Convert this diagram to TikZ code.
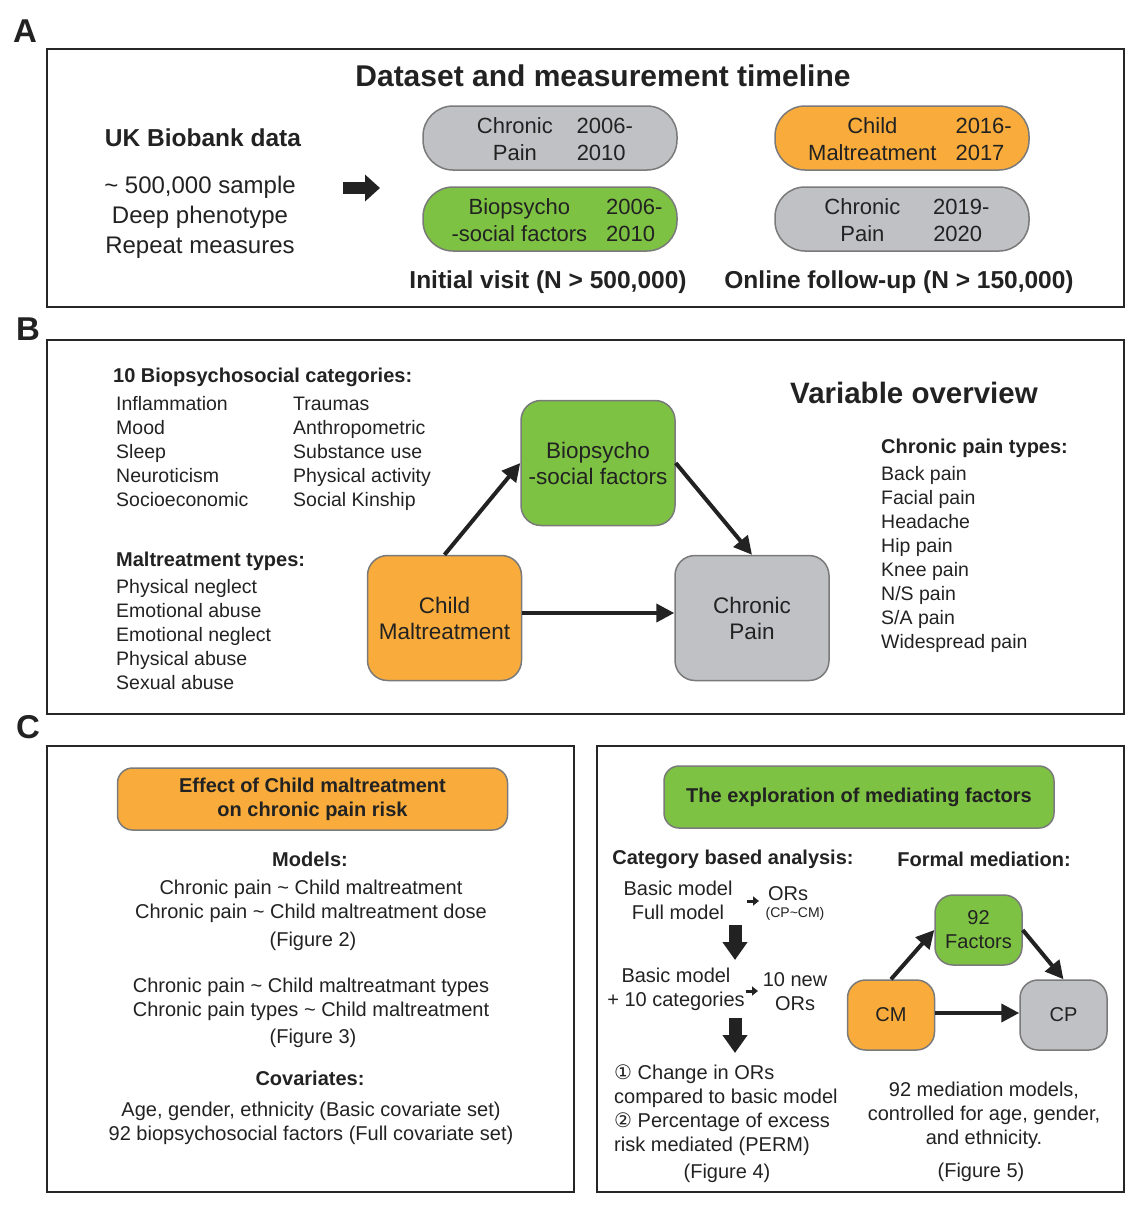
\documentclass[tikz,border=0pt]{standalone}
\usepackage{fontspec}
\setmainfont{Liberation Sans}
\newfontfamily\circfont{DejaVu Sans}
\usetikzlibrary{arrows.meta,positioning}
\definecolor{cmorange}{HTML}{F9AC3B}
\definecolor{bpsgreen}{HTML}{7DC242}
\definecolor{cpgrey}{HTML}{C0C1C4}
\definecolor{boxline}{HTML}{7A7A7A}
\definecolor{ink}{HTML}{222222}

\begin{document}
\begin{tikzpicture}[x=1pt,y=-1pt,every node/.style={text=ink,inner sep=0pt}]
        \tikzset{panel/.style = {draw=black!85,line width=2.2pt}}
        \tikzset{letter/.style = {font=\bfseries\fontsize{33}{36}\selectfont}}
        \tikzset{head/.style = {font=\bfseries\fontsize{30}{34}\selectfont}}
        \tikzset{bold/.style = {font=\bfseries\fontsize{24.5}{30}\selectfont}}
        \tikzset{pill/.style = {draw=boxline,line width=1.5pt,rounded corners=30pt,minimum width=254pt,minimum height=64pt,font=\fontsize{22}{27}\selectfont}}
        \tikzset{vbox/.style = {draw=boxline,line width=1.5pt,rounded corners=20pt,minimum width=154pt,minimum height=125pt,align=center,font=\fontsize{22.5}{26}\selectfont}}
        \tikzset{sbox/.style = {draw=boxline,line width=1.5pt,rounded corners=18pt,minimum width=87pt,minimum height=70pt,align=center,font=\fontsize{20}{24}\selectfont}}
        \tikzset{tbox/.style = {draw=boxline,line width=1.5pt,rounded corners=15pt,minimum width=390pt,minimum height=62pt,align=center,font=\bfseries\fontsize{20}{24}\selectfont}}
        \tikzset{list/.style = {align=left,font=\fontsize{19.5}{24}\selectfont}}
        \tikzset{listhead/.style = {font=\bfseries\fontsize{20}{24}\selectfont}}
        \tikzset{ctext/.style = {align=center,font=\fontsize{20}{24}\selectfont}}
        \tikzset{edge/.style = {line width=4pt,draw=ink,-{Triangle[length=18pt,width=18pt]}}}
        \tikzset{blockarrow/.style = {line width=12pt,draw=ink,-{Triangle[length=15pt,width=26pt]}}}
        \tikzset{downarrow/.style = {line width=13pt,draw=ink,-{Triangle[length=18pt,width=24pt]}}}
        \tikzset{tinyarrow/.style = {line width=3pt,draw=ink,-{Triangle[length=6pt,width=9pt]}}}
        \useasboundingbox (0,0) rectangle (1143,1218);
        % panel frames
        \draw[panel] (47,49) rectangle (1124,307);
        \draw[panel] (47,340) rectangle (1124,714);
        \draw[panel] (47,746) rectangle (574,1192);
        \draw[panel] (597,746) rectangle (1124,1192);
        \node[letter] (lA) at (25,31) {A};
        \node[letter] (lB) at (28,329) {B};
        \node[letter] (lC) at (28,727) {C};
        % A: timeline
        \node[head] (timeline) at (603,76) {Dataset and measurement timeline};
        \node[bold] (ukb) at (203,138) {UK Biobank data};
        \node[align=center,font=\fontsize{24}{30}\selectfont] (ukbinfo) at (200,217) {\textasciitilde{} 500,000 sample\\Deep phenotype\\Repeat measures};
        \coordinate (ukbout) at (343,188);
        \coordinate (visitin) at (380,188);
        \draw[blockarrow] (ukbout) -- (visitin);
        \node[pill,fill=cpgrey] (cp1) at (550,138) {\hspace*{10pt}\raisebox{-8.5pt}[0pt][0pt]{\begin{tabular}{@{}c@{\hspace{24pt}}l@{}}Chronic & 2006-\\Pain & 2010\end{tabular}}};
        \node[pill,fill=bpsgreen] (bps1) at (550,219) {\hspace*{14pt}\raisebox{-8.5pt}[0pt][0pt]{\begin{tabular}{@{}c@{\hspace{19pt}}l@{}}Biopsycho & 2006-\\-social factors & 2010\end{tabular}}};
        \node[pill,fill=cmorange] (cm2) at (902,138) {\hspace*{16pt}\raisebox{-8.5pt}[0pt][0pt]{\begin{tabular}{@{}c@{\hspace{19pt}}l@{}}Child & 2016-\\Maltreatment & 2017\end{tabular}}};
        \node[pill,fill=cpgrey] (cp2) at (902,219) {\hspace*{10pt}\raisebox{-8.5pt}[0pt][0pt]{\begin{tabular}{@{}c@{\hspace{33pt}}l@{}}Chronic & 2019-\\Pain & 2020\end{tabular}}};
        \node[bold] (initial) at (548,282) {Initial visit (N > 500,000)};
        \node[bold] (online) at (899,282) {Online follow-up (N > 150,000)};
        % B: variable overview
        \node[listhead,anchor=west] (cathead) at (113,377) {10 Biopsychosocial categories:};
        \node[list,anchor=west] (catA) at (116,452) {Inflammation\\Mood\\Sleep\\Neuroticism\\Socioeconomic};
        \node[list,anchor=west] (catB) at (293,454) {Traumas\\Anthropometric\\Substance use\\Physical activity\\Social Kinship};
        \node[listhead,anchor=west] (cmhead) at (116,561) {Maltreatment types:};
        \node[list,anchor=west] (cmtypes) at (116,635) {Physical neglect\\Emotional abuse\\Emotional neglect\\Physical abuse\\Sexual abuse};
        \node[head,font=\bfseries\fontsize{29.5}{34}\selectfont] (overview) at (914,393) {Variable overview};
        \node[listhead,anchor=west] (cphead) at (881,448) {Chronic pain types:};
        \node[list,anchor=west] (cptypes) at (881,559) {Back pain\\Facial pain\\Headache\\Hip pain\\Knee pain\\N/S pain\\S/A pain\\Widespread pain};
        \node[vbox,fill=bpsgreen] (bps) at (598,463) {Biopsycho\\-social factors};
        \node[vbox,fill=cmorange] (cm) at (444.5,618) {Child\\Maltreatment};
        \node[vbox,fill=cpgrey] (cp) at (752,618) {Chronic\\Pain};
        \draw[edge] (cm.north) -- (bps.west);
        \draw[edge] (bps.east) -- (cp.north);
        \draw[edge] ([yshift=5pt]cm.east) -- ([yshift=5pt]cp.west);
        % C: analyses
        \node[tbox,fill=cmorange] (effect) at (312.5,799) {Effect of Child maltreatment\\on chronic pain risk};
        \node[listhead] (models) at (310,859) {Models:};
        \node[ctext] (mod1) at (311,901) {Chronic pain \textasciitilde{} Child maltreatment\\Chronic pain \textasciitilde{} Child maltreatment dose};
        \node[ctext] (fig2) at (313,941) {(Figure 2)};
        \node[ctext] (mod2) at (311,999) {Chronic pain \textasciitilde{} Child maltreatmant types\\Chronic pain types \textasciitilde{} Child maltreatment};
        \node[ctext] (fig3) at (313,1038) {(Figure 3)};
        \node[listhead] (covhead) at (310,1078) {Covariates:};
        \node[ctext] (cov) at (311,1123) {Age, gender, ethnicity (Basic covariate set)\\92 biopsychosocial factors (Full covariate set)};
        \node[tbox,fill=bpsgreen] (explore) at (859,797) {The exploration of mediating factors};
        \node[listhead] (cathd) at (733,859) {Category based analysis:};
        \node[listhead] (formal) at (984,859) {Formal mediation:};
        \node[ctext] (basic1) at (678,900) {Basic model\\Full model};
        \node[ctext] (ors1) at (788,894) {ORs};
        \node[font=\fontsize{14}{16}\selectfont] (cpcm) at (795,914) {(CP\textasciitilde CM)};
        \coordinate (t1a) at (747,901);
        \coordinate (t1b) at (759,901);
        \draw[tinyarrow] (t1a) -- (t1b);
        \coordinate (d1a) at (735,925);
        \coordinate (d1b) at (735,960);
        \draw[downarrow] (d1a) -- (d1b);
        \node[ctext] (basic2) at (676,989) {Basic model\\+ 10 categories};
        \node[ctext] (ors2) at (795,992) {10 new\\ORs};
        \coordinate (t2a) at (746,991);
        \coordinate (t2b) at (758,991);
        \draw[tinyarrow] (t2a) -- (t2b);
        \coordinate (d2a) at (735,1018);
        \coordinate (d2b) at (735,1053);
        \draw[downarrow] (d2a) -- (d2b);
        \node[ctext,align=left,anchor=west] (results) at (614,1110) {{\circfont ①} Change in ORs\\compared to basic model\\{\circfont ②} Percentage of excess\\risk mediated (PERM)};
        \node[ctext] (fig4) at (727,1173) {(Figure 4)};
        \node[sbox,fill=bpsgreen] (fac) at (978.5,930) {92\\Factors};
        \node[sbox,fill=cmorange] (cmS) at (891,1015) {CM};
        \node[sbox,fill=cpgrey] (cpS) at (1063.5,1015) {CP};
        \draw[edge] (cmS.north) -- (fac.west);
        \draw[edge] (fac.east) -- (cpS.north);
        \draw[edge] ([yshift=2pt]cmS.east) -- ([yshift=2pt]cpS.west);
        \node[ctext] (medtxt) at (984,1115) {92 mediation models,\\controlled for age, gender,\\and ethnicity.};
        \node[ctext] (fig5) at (981,1172) {(Figure 5)};
\end{tikzpicture}
\end{document}
